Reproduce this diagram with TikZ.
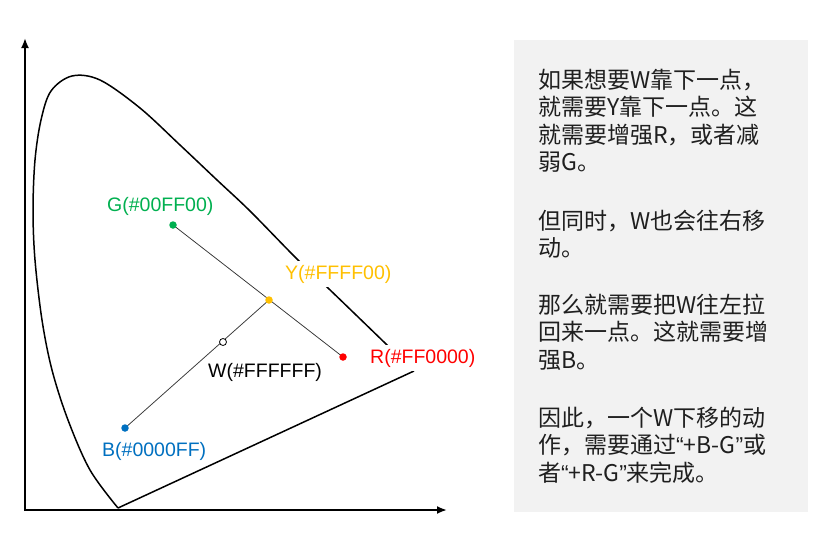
\documentclass[tikz,border=0pt]{standalone}
\usepackage{fontspec}
\setmainfont{Liberation Sans}
\newfontfamily\cjk{Noto Sans CJK SC}
\newfontfamily\qfont{Liberation Sans}
\usetikzlibrary{arrows.meta}
\definecolor{gcol}{HTML}{00B050}
\definecolor{ycol}{HTML}{FFC000}
\definecolor{rcol}{HTML}{FF0000}
\definecolor{bcol}{HTML}{0070C0}
\definecolor{panel}{HTML}{F2F2F2}
\definecolor{segcol}{HTML}{333333}
\begin{document}
\begin{tikzpicture}[x=1pt,y=-1pt,
  axisline/.style={line width=1.9pt, -{Latex[length=10pt,width=8pt]}},
  locus/.style={line width=1.5pt, line join=round},
  segline/.style={line width=0.75pt, draw=segcol},
  dot/.style={circle, inner sep=0pt, minimum size=7.5pt},
  lab/.style={font=\fontsize{19.5}{22}\selectfont, fill=white, inner sep=4pt, anchor=base west},
  txt/.style={font=\cjk\fontsize{23}{27.5}\selectfont, inner sep=0pt, anchor=base west, text=black!88}]
\useasboundingbox (0,0) rectangle (836,538);
% axes
\coordinate (o) at (25,510);
\coordinate (ytip) at (25,38);
\coordinate (xtip) at (447,510);
\coordinate (o1) at (25,511);
\coordinate (o2) at (24,510);
\draw[axisline] (o1) -- (ytip);
\draw[axisline] (o2) -- (xtip);
% spectral locus
\coordinate (bl) at (118,508);
\coordinate (rl) at (414,371);
\draw[locus] plot[smooth, tension=0.55] coordinates {(118,508) (90,470) (68,420) (52,370) (42,320) (35,260) (33,210) (35,160) (41,120) (51,91) (72,76) (100,80) (140,108) (180,145) (217,180) (250,211) (297,259) (328,288) (385,343) (414,371)};
\draw[locus] (rl) -- (bl);
% points
\coordinate (g) at (173,225);
\coordinate (y) at (269,300);
\coordinate (r) at (343,357);
\coordinate (w) at (223,342);
\coordinate (b) at (125,428);
\draw[segline] (g) -- (r);
\draw[segline] (b) -- (y);
\node[dot, fill=gcol] (G) at (g) {};
\node[dot, fill=ycol] (Y) at (y) {};
\node[dot, fill=rcol] (R) at (r) {};
\node[dot, fill=bcol] (B) at (b) {};
\node[dot, fill=white, draw=black, line width=0.8pt, minimum size=7pt] (W) at (w) {};
% labels
\node[lab, text=gcol] (Gl) at (103,211) {G(\#00FF00)};
\node[lab, text=ycol] (Yl) at (281,279) {Y(\#FFFF00)};
\node[lab, text=rcol] (Rl) at (366,363) {R(\#FF0000)};
\node[lab, text=black] (Wl) at (204,377) {W(\#FFFFFF)};
\node[lab, text=bcol] (Bl) at (98,456) {B(\#0000FF)};
% text panel
\coordinate (p1) at (514,40);
\coordinate (p2) at (808,512);
\fill[panel] (p1) rectangle (p2);
\node[txt] (t1) at (538,88) {如果想要W靠下一点，};
\node[txt] (t2) at (538,115.5) {就需要Y靠下一点。这};
\node[txt] (t3) at (538,143) {就需要增强R，或者减};
\node[txt] (t4) at (538,170.5) {弱G。};
\node[txt] (t5) at (538,229) {但同时，W也会往右移};
\node[txt] (t6) at (538,256.5) {动。};
\node[txt] (t7) at (538,313) {那么就需要把W往左拉};
\node[txt] (t8) at (538,340.5) {回来一点。这就需要增};
\node[txt] (t9) at (538,368) {强B。};
\node[txt] (t10) at (538,426) {因此，一个W下移的动};
\node[txt] (t11) at (538,453.5) {作，需要通过{\qfont“}+B-G{\qfont”}或};
\node[txt] (t12) at (538,481) {者{\qfont“}+R-G{\qfont”}来完成。};
\end{tikzpicture}
\end{document}
